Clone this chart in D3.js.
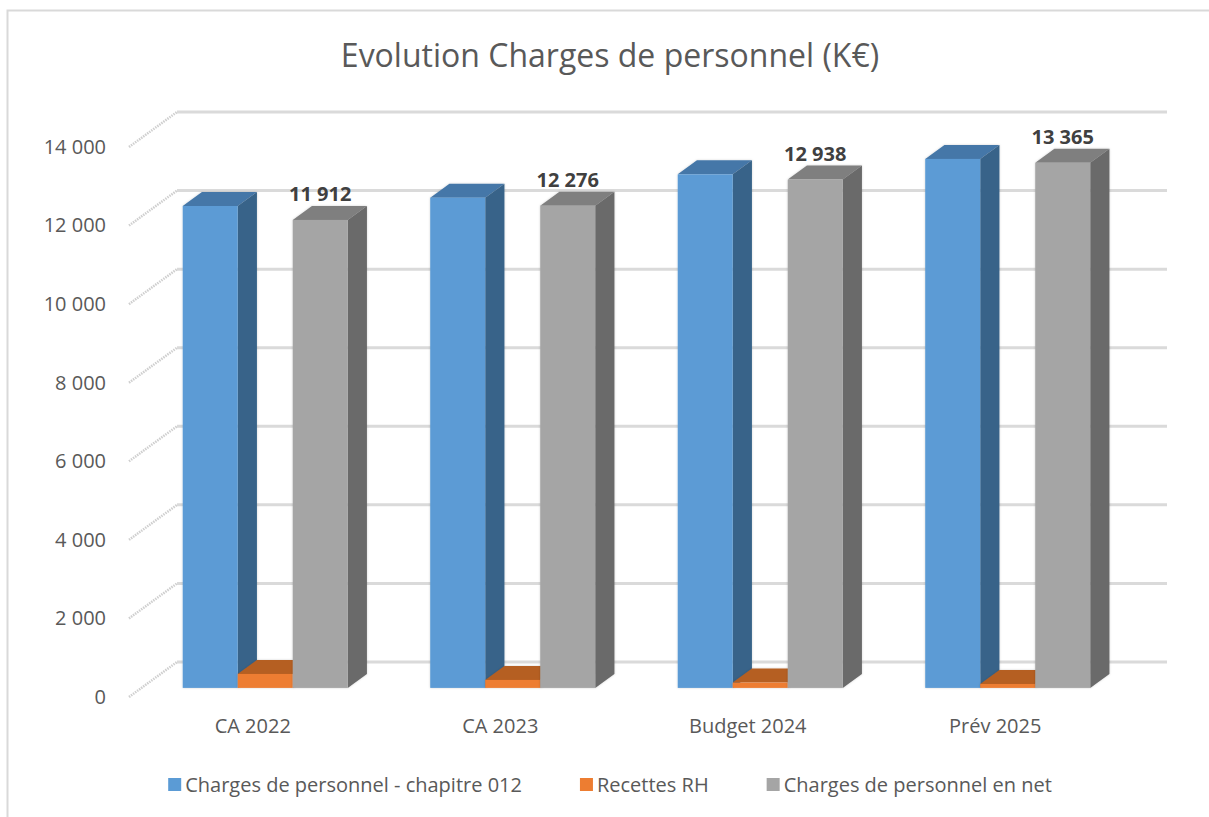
<!DOCTYPE html>
<html>
<head>
<meta charset="utf-8">
<script src="https://cdn.jsdelivr.net/npm/d3@7"></script>
<style>
  html, body { margin: 0; padding: 0; background: #fff; }
  #svg-container { width: 1209px; height: 817px; }
  text { font-family: "Open Sans", "Liberation Sans", Arial, sans-serif; }
</style>
</head>
<body>
<div id="svg-container"></div>
<script>
////////////////////////////////////////////////////////////////////
////////////////////////////  Data  ////////////////////////////////
const categories = ["CA 2022", "CA 2023", "Budget 2024", "Prév 2025"];
const seriesNames = [
  "Charges de personnel - chapitre 012",
  "Recettes RH",
  "Charges de personnel en net",
];
const chargesBrutes = [12267, 12479, 13073, 13465];
const recettesRH = [355, 203, 135, 100];
const chargesNettes = [11912, 12276, 12938, 13365];
const yTicks = [0, 2000, 4000, 6000, 8000, 10000, 12000, 14000];
const titleText = "Evolution Charges de personnel (K€)";

////////////////////////////////////////////////////////////////////
////////////////////////////  Init  ////////////////////////////////
const width = 1209;
const height = 817;

const svg = d3
  .select("#svg-container")
  .append("svg")
  .attr("width", width)
  .attr("height", height);

// 3d look : front plane + oblique depth
const floorY = 697; // value 0 on the front plane
const depthX = 48;
const depthY = 35;
const barFront = 0.26; // depth fraction of bar front face
const barBack = 0.66;

const colors = [
  { front: "#5b9bd5", top: "#4577a8", side: "#386389" },
  { front: "#ed7d31", top: "#b55f22", side: "#a55420" },
  { front: "#a5a5a5", top: "#7f7f7f", side: "#6a6a6a" },
];

const fr = d3.formatLocale({ decimal: ",", thousands: " ", grouping: [3], currency: ["", "€"] });
const formatNum = fr.format(",d");

// scales
const hScale = d3.scaleLinear().domain([0, 14000]).range([0, 550]);
const yFront = d3.scaleLinear().domain([0, 14000]).range([floorY, floorY - 550]);
const xScale = d3.scaleBand().domain(categories).range([129, 1119]);
const xSub = d3
  .scaleBand()
  .domain(d3.range(seriesNames.length))
  .range([0, xScale.bandwidth()])
  .paddingInner(0)
  .paddingOuter(0.75);

const px = (xf, d) => xf + depthX * d;
const py = (v, d) => floorY - depthY * d - hScale(v);

// chart border
svg
  .append("path")
  .attr("d", `M7.5,${height} V10.5 H${width}`)
  .attr("fill", "none")
  .attr("stroke", "#d9d9d9")
  .attr("stroke-width", 2);

// title
svg
  .append("text")
  .attr("x", 610)
  .attr("y", 67)
  .attr("text-anchor", "middle")
  .attr("font-size", 32)
  .attr("fill", "#595959")
  .text(titleText);

////////////////////////////////////////////////////////////////////
////////////////////////////  Walls  ///////////////////////////////
const x0 = xScale.range()[0];
const x1 = xScale.range()[1];

// side wall diagonals
svg
  .append("g")
  .selectAll("line")
  .data(yTicks)
  .join("line")
  .attr("x1", px(x0, 0))
  .attr("y1", (d) => py(d, 0))
  .attr("x2", px(x0, 1))
  .attr("y2", (d) => py(d, 1))
  .attr("stroke", "#cfcfcf")
  .attr("stroke-width", 2.5)
  .attr("stroke-dasharray", "1.5,1");

// back wall gridlines
svg
  .append("g")
  .selectAll("line")
  .data(yTicks)
  .join("line")
  .attr("x1", px(x0, 1))
  .attr("y1", (d) => py(d, 1))
  .attr("x2", px(x1, 1))
  .attr("y2", (d) => py(d, 1))
  .attr("stroke", "#dadada")
  .attr("stroke-width", 3);

////////////////////////////////////////////////////////////////////
////////////////////////////  Bars  ////////////////////////////////
const defs = svg.append("defs");
defs
  .append("filter")
  .attr("id", "shadow")
  .attr("x", "-20%")
  .attr("y", "-20%")
  .attr("width", "140%")
  .attr("height", "140%")
  .append("feDropShadow")
  .attr("dx", 0)
  .attr("dy", 0)
  .attr("stdDeviation", 1.2)
  .attr("flood-color", "#000")
  .attr("flood-opacity", 0.18);

const seriesValues = [chargesBrutes, recettesRH, chargesNettes];
const bars = [];
categories.forEach((c, i) => {
  seriesValues.forEach((vals, s) => {
    bars.push({ cat: c, s: s, v: vals[i] });
  });
});

const barG = svg
  .append("g")
  .selectAll("g")
  .data(bars)
  .join("g")
  .attr("filter", "url(#shadow)");

const w = xSub.bandwidth();
const pts = (arr) => arr.map((p) => p.join(",")).join(" ");

barG.each(function (b) {
  const g = d3.select(this);
  const xl = xScale(b.cat) + xSub(b.s);
  const xr = xl + w;
  // top face
  g.append("polygon")
    .attr("points", pts([
      [px(xl, barFront), py(b.v, barFront)],
      [px(xr, barFront), py(b.v, barFront)],
      [px(xr, barBack), py(b.v, barBack)],
      [px(xl, barBack), py(b.v, barBack)],
    ]))
    .attr("fill", colors[b.s].top);
  // side face
  g.append("polygon")
    .attr("points", pts([
      [px(xr, barFront), py(b.v, barFront)],
      [px(xr, barBack), py(b.v, barBack)],
      [px(xr, barBack), py(0, barBack)],
      [px(xr, barFront), py(0, barFront)],
    ]))
    .attr("fill", colors[b.s].side);
  // front face
  g.append("rect")
    .attr("x", px(xl, barFront))
    .attr("y", py(b.v, barFront))
    .attr("width", w)
    .attr("height", hScale(b.v))
    .attr("fill", colors[b.s].front);
});

// data labels on net series
svg
  .append("g")
  .selectAll("text")
  .data(bars.filter((b) => b.s === 2))
  .join("text")
  .attr("x", (b) => px(xScale(b.cat) + xSub(b.s) + w / 2, barFront))
  .attr("y", (b) => py(b.v, barBack) - 5)
  .attr("text-anchor", "middle")
  .attr("font-size", 20)
  .attr("font-weight", "bold")
  .attr("fill", "#404040")
  .text((b) => formatNum(b.v));

////////////////////////////////////////////////////////////////////
////////////////////////////  Axes  ////////////////////////////////
const yAxis = d3
  .axisLeft(yFront)
  .tickValues(yTicks)
  .tickFormat(formatNum)
  .tickSize(0)
  .tickPadding(0);

const yG = svg.append("g").attr("transform", "translate(106,0)").call(yAxis);
yG.select(".domain").remove();
yG.selectAll("text").attr("font-size", 20).attr("fill", "#595959").attr("font-family", null);

const xAxis = d3.axisBottom(xScale).tickSize(0).tickPadding(0);
const xG = svg.append("g").attr("transform", "translate(0,719)").call(xAxis);
xG.select(".domain").remove();
xG.selectAll("text").attr("font-size", 20).attr("fill", "#595959").attr("font-family", null);

////////////////////////////////////////////////////////////////////
////////////////////////////  Legend  //////////////////////////////
const legend = svg.append("g");
const legendGap = 58;
let lx = 0;
seriesNames.forEach((name, s) => {
  const item = legend.append("g").attr("transform", `translate(${lx},0)`);
  item
    .append("rect")
    .attr("x", 0)
    .attr("y", -7)
    .attr("width", 13)
    .attr("height", 13)
    .attr("fill", colors[s].front);
  const t = item
    .append("text")
    .attr("x", 17)
    .attr("y", 6.5)
    .attr("font-size", 20)
    .attr("fill", "#595959")
    .text(name);
  lx += 17 + t.node().getComputedTextLength() + legendGap;
});
const legendW = lx - legendGap;
legend.attr("transform", `translate(${610 - legendW / 2},785)`);
</script>
</body>
</html>
